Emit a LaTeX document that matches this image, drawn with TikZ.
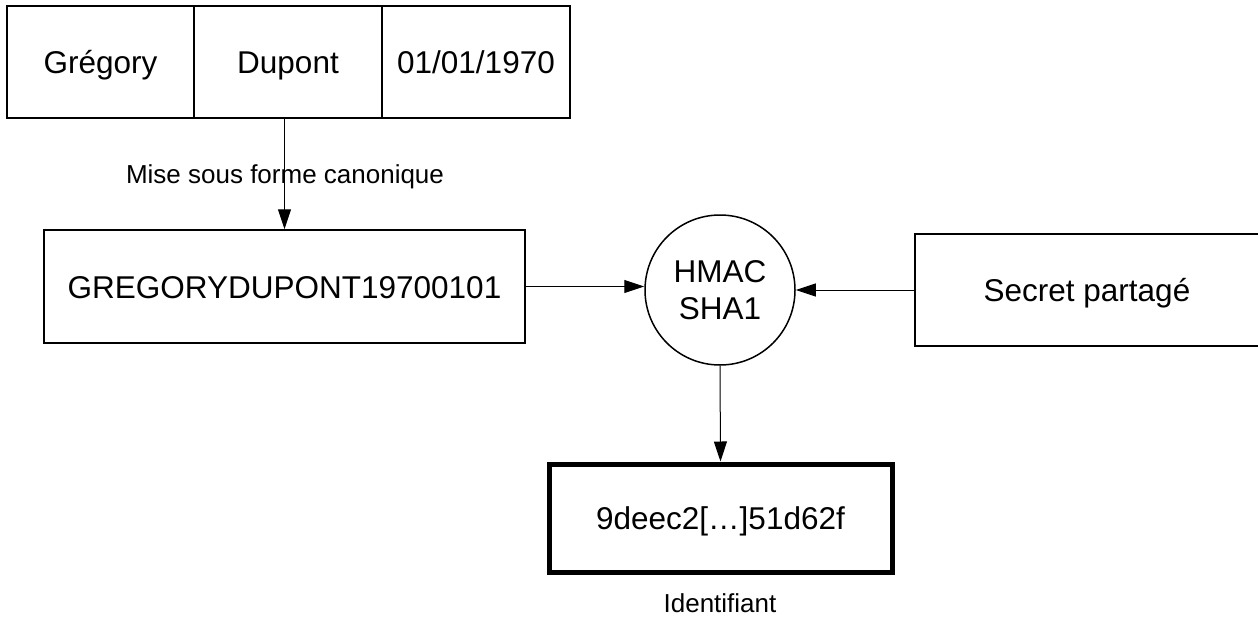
\documentclass[tikz,border=0pt]{standalone}
\usepackage{fontspec}
\setmainfont{Liberation Sans}
\usetikzlibrary{arrows.meta}
\begin{document}
\begin{tikzpicture}[x=1pt,y=-1pt,
  box/.style={draw,line width=1.5pt,rectangle,inner sep=0pt,font=\fontsize{31.5}{37}\selectfont,text height=23pt,text depth=0pt},
  thickbox/.style={box,line width=5pt},
  circ/.style={draw,line width=1.5pt,circle,inner sep=0pt,minimum size=150pt,align=center,font=\fontsize{31.5}{37}\selectfont},
  lbl/.style={font=\fontsize{26}{30}\selectfont,inner sep=0pt},
  conn/.style={line width=1pt,-{Triangle[length=20pt,width=13pt]}}]
\useasboundingbox (0,0) rectangle (1258,616);
\node[box,minimum width=187.5pt,minimum height=112pt] (prenom) at (100.5,62) {Grégory};
\node[box,minimum width=188pt,minimum height=112pt] (nom) at (288,62) {Dupont};
\node[box,minimum width=188pt,minimum height=112pt] (date) at (476,62) {01/01/1970};
\node[box,minimum width=481pt,minimum height=113pt] (canon) at (284.5,286.5) {GREGORYDUPONT19700101};
\node[circ] (hmac) at (720,290) {HMAC\\SHA1};
\node[box,minimum width=344pt,minimum height=112pt] (secret) at (1087,290) {Secret partagé};
\node[thickbox,minimum width=343pt,minimum height=108pt] (id) at (720.5,518) {9deec2[…]51d62f};
\node[lbl] (canonlbl) at (285,177) {Mise sous forme canonique};
\node[lbl] (idlbl) at (720,603) {Identifiant};
\draw[conn] (canon.north |- nom.south) -- (canon.north);
\draw[conn] (canon.east) -- (canon.east -| hmac.west);
\draw[conn] (secret.west) -- (hmac.east);
\draw[conn] (hmac.south) -- (id.north);
\end{tikzpicture}
\end{document}
